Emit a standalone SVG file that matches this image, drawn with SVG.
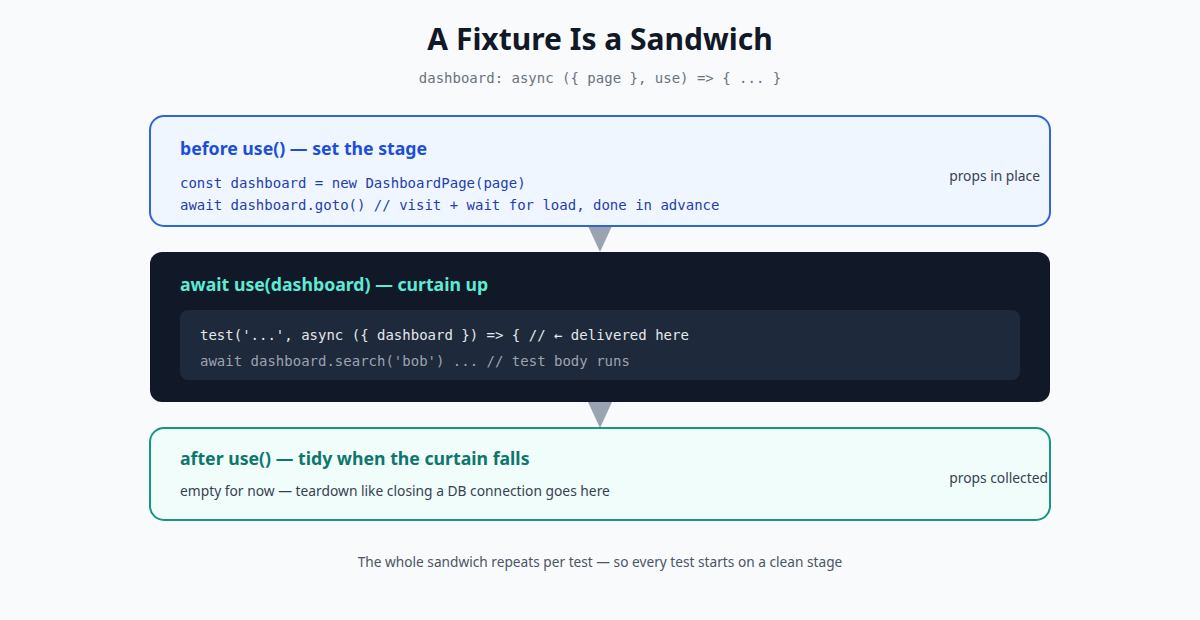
<svg xmlns="http://www.w3.org/2000/svg" width="1200" height="620" viewBox="0 0 1200 620">
<defs>
<style>
.sans{font-family:"Noto Sans","Liberation Sans",sans-serif}
.mono{font-family:"DejaVu Sans Mono","Liberation Mono",monospace;font-size:14px}
.title{font-size:30px;font-weight:700;fill:#111827}
.head{font-size:17.7px;font-weight:700}
.note{font-size:13.8px;fill:#374151}
.arrow{fill:#9aa3b2}
</style>
</defs>
<rect x="0" y="0" width="1200" height="620" fill="#f8fafc"/>
<text class="sans title" x="600" y="50" text-anchor="middle">A Fixture Is a Sandwich</text>
<text class="mono" x="600" y="83" text-anchor="middle" fill="#6b7280">dashboard: async ({ page }, use) =&gt; { ... }</text>

<g id="connectors">
<polygon class="arrow" points="588,226 612,226 600,252"/>
<polygon class="arrow" points="588,402 612,402 600,428"/>
</g>

<g id="before">
<rect x="150" y="116" width="900" height="110" rx="14" fill="#eff6ff" stroke="#2f67d1" stroke-width="2"/>
<text class="sans head" x="180" y="155" fill="#1d4ed8">before use() — set the stage</text>
<text class="mono" x="180" y="188" fill="#1e40af">const dashboard = new DashboardPage(page)</text>
<text class="mono" x="180" y="210" fill="#1e40af">await dashboard.goto() // visit + wait for load, done in advance</text>
<text class="sans note" x="1040" y="181" text-anchor="end">props in place</text>
</g>

<g id="use">
<rect x="150" y="252" width="900" height="150" rx="12" fill="#111827"/>
<text class="sans head" x="180" y="291" fill="#5eead4">await use(dashboard) — curtain up</text>
<rect x="180" y="310" width="840" height="70" rx="8" fill="#1e293b"/>
<text class="mono" x="200" y="340" fill="#e5e7eb">test('...', async ({ dashboard }) =&gt; { // ← delivered here</text>
<text class="mono" x="200" y="366" fill="#9ca3af">await dashboard.search('bob') ... // test body runs</text>
</g>

<g id="after">
<rect x="150" y="428" width="900" height="92" rx="14" fill="#f0fdfa" stroke="#179683" stroke-width="2"/>
<text class="sans head" x="180" y="465" fill="#0f766e">after use() — tidy when the curtain falls</text>
<text class="sans note" x="180" y="496">empty for now — teardown like closing a DB connection goes here</text>
<text class="sans note" x="1048" y="483" text-anchor="end">props collected</text>
</g>

<text class="sans" x="600" y="567" text-anchor="middle" font-size="13.7" fill="#4b5563">The whole sandwich repeats per test — so every test starts on a clean stage</text>
</svg>
